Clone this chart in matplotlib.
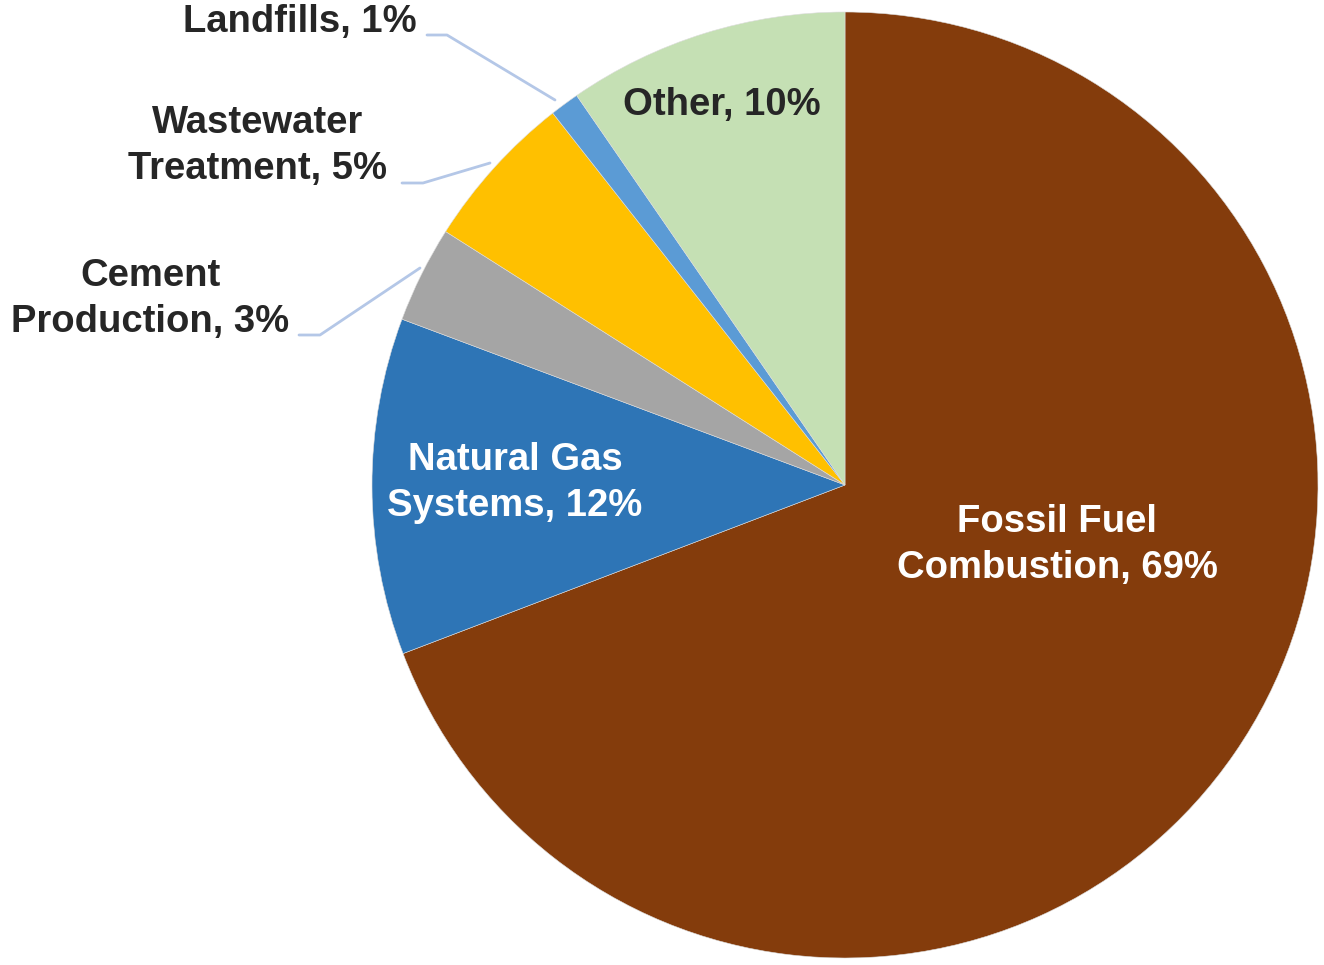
import matplotlib
matplotlib.use("Agg")
import matplotlib.pyplot as plt

categories = ["Fossil Fuel\nCombustion", "Natural Gas\nSystems", "Cement\nProduction",
              "Wastewater\nTreatment", "Landfills", "Other"]
values = [69.2, 11.5, 3.3, 5.4, 1.0, 9.6]
pct_labels = ["69%", "12%", "3%", "5%", "1%", "10%"]
colors = ["#843C0C", "#2E75B6", "#A5A5A5", "#FFC000", "#5B9BD5", "#C5E0B4"]

W, H = 1324, 965
fig = plt.figure(figsize=(W / 100, H / 100), dpi=100)
ax = fig.add_axes([0, 0, 1, 1])

cx, cy, R = 845, H - 485, 473
ax.pie(values, colors=colors, startangle=90, counterclock=False,
       center=(cx, cy), radius=R, frame=True,
       wedgeprops=dict(linewidth=0.4, edgecolor="#dddddd"))
ax.set_xlim(0, W)
ax.set_ylim(0, H)
ax.set_aspect("equal")
ax.axis("off")

font = dict(family=["Liberation Sans", "DejaVu Sans"], fontsize=27.5, fontweight="bold",
            linespacing=1.36)
dark = "#262626"

def lab(i):
    return f"{categories[i]}, {pct_labels[i]}"

# inside labels
ax.text(1057, H - 545, lab(0), color="white", ha="center", va="center", **font)
ax.text(515, H - 483, lab(1), color="white", ha="center", va="center", **font)
ax.text(722, H - 105, lab(5), color=dark, ha="center", va="center", **font)

# outside labels
ax.text(150, H - 299, lab(2), color=dark, ha="center", va="center", **font)
ax.text(258, H - 146, lab(3), color=dark, ha="center", va="center", **font)
ax.text(300, H - 22, lab(4), color=dark, ha="center", va="center", **font)

lc = "#B4C7E7"
def leader(pts):
    xs = [p[0] for p in pts]
    ys = [H - p[1] for p in pts]
    ax.plot(xs, ys, color=lc, lw=2, solid_capstyle="round")

leader([(299, 335), (320, 335), (420, 268)])
leader([(402, 183), (423, 183), (490, 163)])
leader([(427, 35), (447, 35), (555, 100)])

fig.savefig("out.png", dpi=100)
